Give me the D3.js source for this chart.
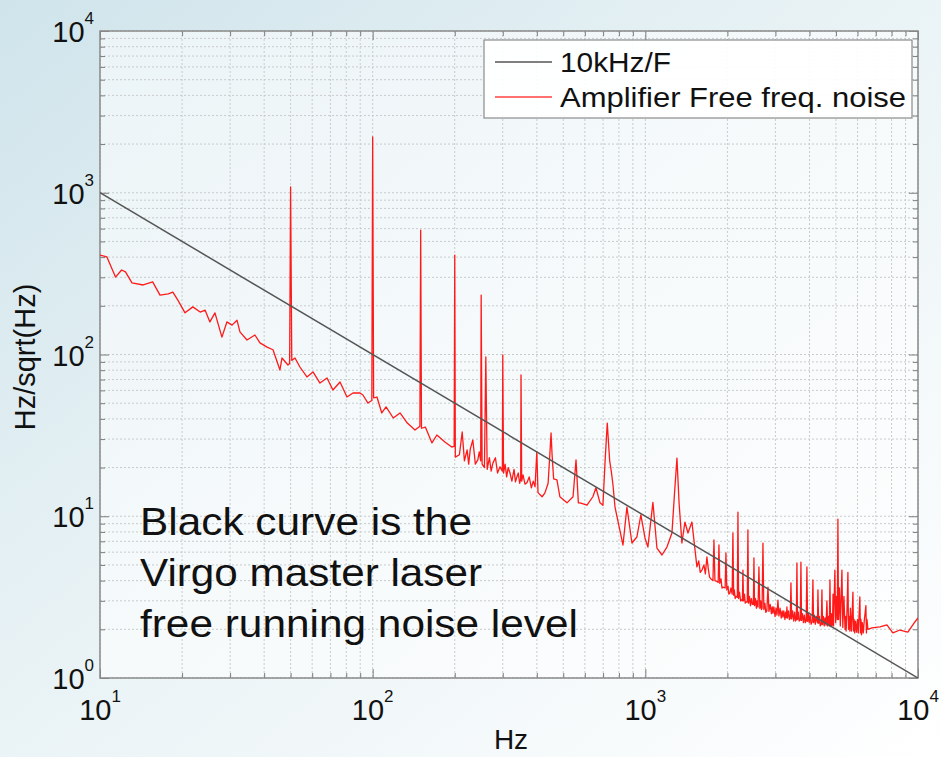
<!DOCTYPE html>
<html>
<head>
<meta charset="utf-8">
<script src="https://d3js.org/d3.v7.min.js"></script>
<style>
	html, body { margin: 0; padding: 0; }
	#chart { width: 941px; height: 757px; }
	text { font-family: "Liberation Sans", Arial, sans-serif; fill: #111; }
</style>
</head>
<body>
<div id="chart"></div>
<script>

// red trace : amplifier free running frequency noise, [Hz, Hz/sqrt(Hz)]
const noiseSpectrum = [
	[10.0,412],[10.6,401],[11.4,301],[12.0,333],[12.4,324],[13.1,277],[14.4,269],[15.6,281],[16.6,233],[17.8,237],
	[18.5,243],[19.3,217],[20.5,181],[21.9,197],[23.3,183],[24.3,188],[25.3,159],[26.4,181],[28.0,128],[29.2,159],
	[30.5,152],[31.8,163],[32.6,138],[34.6,123],[37.0,132],[38.6,118],[41.0,111],[43.1,107],[45.7,80.2],[46.5,95.1],
	[48.9,86.1],[49.6,88],[50.0,1085],[50.5,92],[51.9,95.1],[54.1,83.7],[57.4,72.6],[60.4,78.0],[64.1,66.6],[68.0,71.6],
	[71.5,60.3],[75.9,67.6],[80.5,54.6],[84.7,57.8],[89.8,57.8],[92.1,56.2],[96.1,50.1],[99.3,52],[100,2211],[100.8,54],
	[103.7,54.6],[108,43.5],[112,47.4],[119,40.5],[126,43.5],[134,37.7],[143,34.1],[149,36],[150,588],[151,35],
	[156,35.6],[165,28.4],[172,31.8],[184,28.8],[195,26.8],[199,27],[200,412],[201,23.2],[208,24],[213,33.2],
	[217,22],[222,25.7],[225,21],[228,26],[233,29.6],[238,21],[243,22.3],[246,25],[249,22],[250,233],
	[252,21],[257,20],[260,96.5],[263,19.5],[268,23],[272,19],[276,21.3],[282,23],[287,18.5],[293,20.2],
	[299,19],[300,99.3],[302,18.5],[306,21],[310,17.5],[314,20],[319,18.5],[324,16.5],[330,19.5],[334,16.3],
	[338,17.5],[342,18.5],[346,16],[349,17],[350,74.7],[352,16.5],[356,18],[362,15.8],[368,16.1],[375,17.5],
	[382,15],[388,16.5],[394,15.2],[400,25.0],[404,14],[418,13.2],[428,13.9],[440,16],[447,25],[451,32.7],
	[455,24],[461,17],[474,16.8],[486,13.2],[516,12.1],[543,13.2],[557,22.3],[568,12.1],[576,12.1],[611,11.7],
	[642,13.2],[659,15.0],[682,12.1],[699,11.7],[712,22],[725,37.7],[740,22],[750,19],[761,15.6],[774,11.4],
	[828,6.64],[856,11.4],[893,6.83],[931,7.44],[963,10.2],[997,7.34],[1022,6.45],[1066,12.2],[1103,6.36],[1151,5.76],
	[1200,6.45],[1252,7.88],[1280,14],[1306,22.9],[1330,12],[1362,6.83],[1397,9.21],[1433,7.88],[1482,9.21],[1546,4.86],
	[1570,5.3],[1590,4.5],[1613,4.65],[1640,5.0],[1660,4.4],[1682,5.60],[1700,4.8],[1720,4.2],[1740,4.1],[1770,4.0],
	[1785,7.13],[1800,4.0],[1830,3.95],[1850,3.9],[1862,6.64],[1875,3.85],[1895,4.1],[1910,3.6],[1925,3.65],[1962,3.6],
	[1975,5.93],[1990,3.5],[2010,3.7],[2025,3.3],[2043,3.35],[2060,3.6],[2082,3.3],[2095,7.88],[2108,3.25],[2120,3.5],
	[2135,3.1],[2150,3.2],[2175,3.15],[2186,10.6],[2198,3.1],[2215,3.4],[2235,3.0],[2250,3.05],[2270,3.0],[2280,4.65],
	[2292,3.0],[2310,3.3],[2325,2.9],[2340,2.95],[2365,2.95],[2378,8.22],[2390,2.9],[2410,3.2],[2430,2.8],[2450,3.1],
	[2470,2.85],[2490,2.85],[2502,5.52],[2515,2.8],[2535,3.1],[2555,2.7],[2570,3.0],[2590,2.75],[2610,4.86],[2630,2.7],
	[2650,3.0],[2665,2.65],[2680,2.7],[2700,6.83],[2720,2.65],[2745,2.9],[2765,2.55],[2790,2.6],[2817,3.65],[2840,2.58],
	[2870,2.85],[2900,2.5],[2920,2.75],[2938,2.52],[2960,2.75],[2990,2.4],[3015,2.7],[3040,2.45],[3064,3.03],[3090,2.42],
	[3120,2.7],[3150,2.35],[3175,2.6],[3196,2.38],[3220,2.6],[3250,2.3],[3270,2.55],[3290,2.36],[3306,2.75],[3320,2.35],
	[3350,2.6],[3375,2.3],[3400,2.33],[3420,3.87],[3440,2.32],[3470,2.6],[3500,2.25],[3530,2.55],[3555,2.25],[3580,2.3],
	[3597,5.14],[3615,2.3],[3640,2.55],[3665,2.25],[3700,2.28],[3721,5.2],[3740,2.27],[3770,2.5],[3800,2.2],[3830,2.45],
	[3860,2.2],[3890,2.25],[3914,4.86],[3935,2.24],[3960,2.5],[3990,2.2],[4020,2.45],[4055,2.15],[4090,2.22],[4117,4.04],
	[4140,2.2],[4170,2.45],[4200,2.15],[4240,2.4],[4280,2.19],[4295,3.50],[4320,2.18],[4350,2.4],[4380,2.1],[4420,2.15],
	[4443,3.5],[4465,2.14],[4500,2.4],[4530,2.1],[4565,2.35],[4600,2.12],[4634,3.0],[4660,2.1],[4690,2.4],[4730,2.1],
	[4754,4.04],[4780,2.08],[4810,2.5],[4835,2.1],[4860,2.2],[4880,3.3],[4900,2.1],[4956,4.65],[4990,2.2],[5030,3.2],
	[5060,2.3],[5085,9.6],[5110,2.3],[5150,3.6],[5190,2.1],[5210,2.6],[5260,4.65],[5300,2.05],[5350,3.2],[5400,2.0],
	[5420,2.4],[5450,1.95],[5490,2.6],[5533,4.5],[5560,2.0],[5600,2.4],[5625,1.95],[5650,2.7],[5700,1.95],[5725,2.3],
	[5772,3.40],[5800,1.95],[5830,2.3],[5860,1.9],[5900,2.25],[5950,1.92],[6000,2.3],[6040,1.9],[6120,3.17],[6150,1.9],
	[6180,2.3],[6210,1.85],[6250,2.2],[6300,1.9],[6350,2.25],[6440,2.8],[6470,1.9],[6500,2.3],[6550,2.0],[6776,2.04],
	[7251,2.07],[7691,2.13],[8091,1.90],[8583,1.98],[9183,1.92],[9740,2.22],[10000,2.35]
];

// black reference line : 10 kHz / F
const refFreq = [10, 10000];
const refAmp = [1000, 1];

const xExponents = [1, 2, 3, 4];
const yExponents = [0, 1, 2, 3, 4];
const legendLabels = ["10kHz/F", "Amplifier Free freq. noise"];
const noteLines = ["Black curve is the", "Virgo master laser", "free running noise level"];

const W = 941, H = 757;
const pLeft = 100, pRight = 918, pTop = 31, pBottom = 678;

const x = d3.scaleLog().domain([10, 1e4]).range([pLeft, pRight]);
const y = d3.scaleLog().domain([1, 1e4]).range([pBottom, pTop]);

const svg = d3.select("#chart").append("svg")
	.attr("width", W)
	.attr("height", H);

const defs = svg.append("defs");
const grad = defs.append("linearGradient")
	.attr("id", "bg")
	.attr("x1", 0).attr("y1", 0).attr("x2", 1).attr("y2", 1);
grad.append("stop").attr("offset", 0).attr("stop-color", "#cfe4eb");
grad.append("stop").attr("offset", 0.45).attr("stop-color", "#e8f2f5");
grad.append("stop").attr("offset", 1).attr("stop-color", "#ffffff");

defs.append("clipPath").attr("id", "plotclip")
	.append("rect")
	.attr("x", pLeft).attr("y", pTop)
	.attr("width", pRight - pLeft).attr("height", pBottom - pTop);

svg.append("rect")
	.attr("width", W).attr("height", H)
	.attr("fill", "url(#bg)");

svg.append("rect")
	.attr("x", pLeft).attr("y", pTop)
	.attr("width", pRight - pLeft).attr("height", pBottom - pTop)
	.attr("fill", "#ffffff")
	.attr("fill-opacity", 0.55);

// grid
const xGrid = x.ticks();
const yGrid = y.ticks();

const grid = svg.append("g").attr("class", "grid");
grid.selectAll("line.gx")
	.data(xGrid)
	.enter().append("line")
	.attr("class", "gx")
	.attr("x1", d => x(d)).attr("x2", d => x(d))
	.attr("y1", pTop).attr("y2", pBottom);

grid.selectAll("line.gy")
	.data(yGrid)
	.enter().append("line")
	.attr("class", "gy")
	.attr("y1", d => y(d)).attr("y2", d => y(d))
	.attr("x1", pLeft).attr("x2", pRight);

grid.selectAll("line")
	.style("stroke", "#c8cbcd")
	.style("stroke-width", 1)
	.style("stroke-dasharray", "2,2");

// inward ticks on all four sides
const isMajor = d => Math.abs(Math.log10(d) - Math.round(Math.log10(d))) < 1e-9;

function tickSet(axisFn, scale, pos, values, len){
	svg.append("g")
		.attr("class", "ticks")
		.attr("transform", pos)
		.call(axisFn(scale).tickValues(values).tickSize(len).tickFormat(""));
}
const xMinor = xGrid.filter(d => !isMajor(d)), xMajor = xGrid.filter(isMajor);
const yMinor = yGrid.filter(d => !isMajor(d)), yMajor = yGrid.filter(isMajor);

tickSet(d3.axisBottom, x, `translate(0,${pBottom})`, xMinor, -5);
tickSet(d3.axisBottom, x, `translate(0,${pBottom})`, xMajor, -9);
tickSet(d3.axisTop, x, `translate(0,${pTop})`, xMinor, -5);
tickSet(d3.axisTop, x, `translate(0,${pTop})`, xMajor, -9);
tickSet(d3.axisLeft, y, `translate(${pLeft},0)`, yMinor, -5);
tickSet(d3.axisLeft, y, `translate(${pLeft},0)`, yMajor, -9);
tickSet(d3.axisRight, y, `translate(${pRight},0)`, yMinor, -5);
tickSet(d3.axisRight, y, `translate(${pRight},0)`, yMajor, -9);

svg.selectAll(".ticks .domain").remove();
svg.selectAll(".ticks line")
	.style("stroke", "#7d7d7d")
	.style("stroke-width", 1);

// box
svg.append("rect")
	.attr("x", pLeft).attr("y", pTop)
	.attr("width", pRight - pLeft).attr("height", pBottom - pTop)
	.attr("fill", "none")
	.attr("stroke", "#8a8a8a")
	.attr("stroke-width", 1.5);

// curves
const line = d3.line()
	.x(d => x(d[0]))
	.y(d => y(d[1]));

const plot = svg.append("g").attr("clip-path", "url(#plotclip)");

plot.append("path")
	.datum(noiseSpectrum)
	.attr("d", line)
	.attr("fill", "none")
	.attr("stroke", "#ff1a1a")
	.attr("stroke-width", 1.3)
	.attr("stroke-linejoin", "round");

plot.append("path")
	.datum(d3.zip(refFreq, refAmp))
	.attr("d", line)
	.attr("fill", "none")
	.attr("stroke", "#555555")
	.attr("stroke-width", 1.5);

// tick labels  10^n
const xLab = svg.append("g").selectAll("text")
	.data(xExponents)
	.enter().append("text")
	.attr("x", d => x(Math.pow(10, d)))
	.attr("y", pBottom + 42)
	.attr("text-anchor", "middle");
xLab.append("tspan").style("font-size", "29px").text("10");
xLab.append("tspan").style("font-size", "17px").attr("dy", -18).text(d => d);

const yLab = svg.append("g").selectAll("text")
	.data(yExponents)
	.enter().append("text")
	.attr("x", pLeft - 6)
	.attr("y", d => y(Math.pow(10, d)) + 11)
	.attr("text-anchor", "end");
yLab.append("tspan").style("font-size", "29px").text("10");
yLab.append("tspan").style("font-size", "17px").attr("dy", -18).text(d => d);

// axis titles
svg.append("text")
	.attr("x", (pLeft + pRight) / 2 + 2)
	.attr("y", 749)
	.attr("text-anchor", "middle")
	.style("font-size", "28px")
	.text("Hz");

svg.append("text")
	.attr("transform", `translate(35,357) rotate(-90)`)
	.attr("text-anchor", "middle")
	.style("font-size", "29px")
	.text("Hz/sqrt(Hz)");

// legend
const legend = svg.append("g").attr("class", "legend");
legend.append("rect")
	.attr("x", 484).attr("y", 40)
	.attr("width", 428).attr("height", 78)
	.attr("fill", "#ffffff")
	.attr("fill-opacity", 0.92)
	.attr("stroke", "#8a8a8a")
	.attr("stroke-width", 1.2);

const legendColors = ["#555555", "#ff4040"];
const legendWidths = [111, 346];
const items = legend.selectAll("g.item")
	.data(legendLabels)
	.enter().append("g")
	.attr("class", "item")
	.attr("transform", (d, i) => `translate(0,${62 + i * 35})`);
items.append("line")
	.attr("x1", 495).attr("x2", 552)
	.attr("stroke", (d, i) => legendColors[i])
	.attr("stroke-width", 1.3);
items.append("text")
	.attr("x", 560)
	.attr("y", 10)
	.attr("textLength", (d, i) => legendWidths[i])
	.attr("lengthAdjust", "spacingAndGlyphs")
	.style("font-size", "28px")
	.text(d => d);

// note
const noteWidths = [332, 342, 438];
svg.append("g").selectAll("text")
	.data(noteLines)
	.enter().append("text")
	.attr("x", 140)
	.attr("y", (d, i) => 535 + i * 51)
	.attr("textLength", (d, i) => noteWidths[i])
	.attr("lengthAdjust", "spacingAndGlyphs")
	.style("font-size", "39px")
	.text(d => d);

</script>
</body>
</html>
